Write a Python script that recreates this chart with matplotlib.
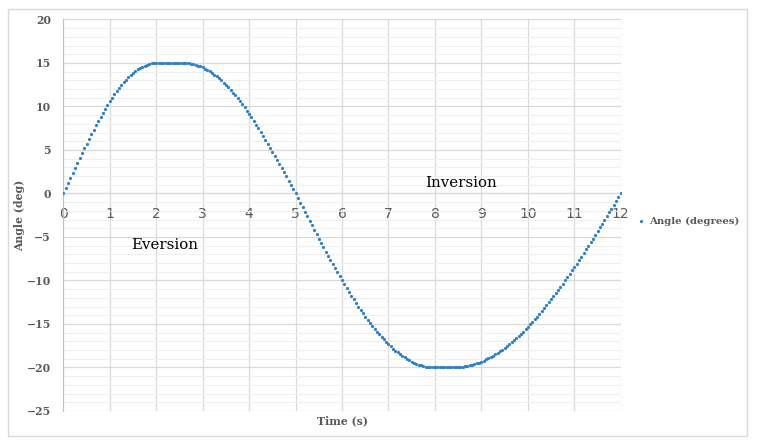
import numpy as np
import matplotlib.pyplot as plt
from matplotlib.patches import Rectangle

# ======================
# DATA (one sample every 0.05 s)
# ======================
angle_deg = [
    # rise 0 -> 15 (0.00 .. 2.00 s)
    0.00, 0.59, 1.18, 1.76, 2.35, 2.93, 3.50, 4.07, 4.64, 5.19,
    5.74, 6.28, 6.81, 7.33, 7.84, 8.33, 8.82, 9.29, 9.74, 10.18,
    10.61, 11.01, 11.41, 11.78, 12.14, 12.47, 12.79, 13.09, 13.37, 13.62,
    13.86, 14.07, 14.27, 14.44, 14.59, 14.71, 14.82, 14.90, 14.95, 14.99,
    15.00,
    # top plateau (2.05 .. 2.55 s)
    15.00, 15.00, 15.00, 15.00, 15.00, 15.00, 15.00, 15.00, 15.00, 15.00,
    15.00,
    # fall 15 -> 0 (2.60 .. 5.00 s)
    15.00, 14.99, 14.97, 14.93, 14.87, 14.80, 14.71, 14.61, 14.49, 14.35,
    14.20, 14.04, 13.86, 13.66, 13.45, 13.23, 12.99, 12.74, 12.47, 12.19,
    11.90, 11.60, 11.28, 10.95, 10.61, 10.25, 9.89, 9.52, 9.13, 8.74,
    8.33, 7.92, 7.50, 7.07, 6.63, 6.19, 5.74, 5.28, 4.82, 4.35,
    3.88, 3.41, 2.93, 2.44, 1.96, 1.47, 0.98, 0.49, 0.00,
    # fall 0 -> -20 (5.05 .. 8.00 s)
    -0.52, -1.05, -1.57, -2.09, -2.61, -3.13, -3.64, -4.16, -4.67, -5.18,
    -5.68, -6.18, -6.68, -7.17, -7.65, -8.13, -8.61, -9.08, -9.54, -10.00,
    -10.45, -10.89, -11.33, -11.76, -12.18, -12.59, -12.99, -13.38, -13.77, -14.14,
    -14.51, -14.86, -15.21, -15.54, -15.87, -16.18, -16.48, -16.77, -17.05, -17.32,
    -17.58, -17.82, -18.05, -18.27, -18.48, -18.67, -18.85, -19.02, -19.18, -19.32,
    -19.45, -19.56, -19.67, -19.75, -19.83, -19.89, -19.94, -19.97, -19.99, -20.00,
    # bottom plateau (8.05 .. 8.35 s)
    -20.00, -20.00, -20.00, -20.00, -20.00, -20.00, -20.00,
    # rise -20 -> 0 (8.40 .. 12.00 s)
    -20.00, -20.00, -19.98, -19.96, -19.92, -19.88, -19.83, -19.77, -19.70, -19.62,
    -19.53, -19.43, -19.32, -19.20, -19.07, -18.94, -18.79, -18.64, -18.48, -18.31,
    -18.13, -17.94, -17.74, -17.53, -17.32, -17.10, -16.87, -16.63, -16.38, -16.13,
    -15.87, -15.60, -15.32, -15.04, -14.75, -14.45, -14.14, -13.83, -13.51, -13.19,
    -12.86, -12.52, -12.18, -11.83, -11.47, -11.11, -10.75, -10.38, -10.00, -9.62,
    -9.24, -8.85, -8.45, -8.06, -7.65, -7.25, -6.84, -6.43, -6.01, -5.60,
    -5.18, -4.75, -4.33, -3.90, -3.47, -3.04, -2.61, -2.18, -1.74, -1.31,
    -0.87, -0.44, 0.00,
]
time_s = np.arange(len(angle_deg)) * 0.05

x_ticks = list(range(0, 13))
y_ticks = list(range(-25, 21, 5))
y_tick_labels = ["\u221225", "\u221220", "\u221215", "\u221210", "\u22125",
                 "0", "5", "10", "15", "20"]
series_label = "Angle (degrees)"

# ======================
# STYLE
# ======================
DOT_COLOR = "#2f80c6"
TEXT_GRAY = "#595959"
MAJOR_GRID = "#d9d9d9"
MINOR_GRID = "#efefef"
SERIF = "DejaVu Serif"
TICK_FONT = dict(family=SERIF, fontweight="bold", fontsize=7.8)

# ======================
# FIGURE SETUP
# ======================
fig = plt.figure(figsize=(7.58, 4.48), dpi=100, facecolor="white")
ax = fig.add_axes([0.0836, 0.0826, 0.7353, 0.8739])

# outer chart border
fig.patches.append(Rectangle((8 / 758, 12 / 448), 739 / 758, 427 / 448,
                             transform=fig.transFigure, fill=False,
                             ec=MAJOR_GRID, lw=1))

ax.set_xlim(0, 12)
ax.set_ylim(-25, 20)
ax.set_xticks(x_ticks)
ax.set_xticklabels([str(t) for t in x_ticks], **TICK_FONT)
ax.set_yticks(y_ticks)
ax.set_yticklabels(y_tick_labels, **TICK_FONT)
ax.set_yticks(range(-25, 21), minor=True)

ax.grid(True, which="major", color=MAJOR_GRID, lw=0.9)
ax.grid(True, which="minor", axis="y", color=MINOR_GRID, lw=0.8)
ax.set_axisbelow(True)

for side in ["top", "right"]:
    ax.spines[side].set_visible(False)
ax.spines["left"].set_color("#bfbfbf")
ax.spines["bottom"].set_position(("data", 0))
ax.spines["bottom"].set_color("#bfbfbf")
ax.spines["bottom"].set_zorder(0.5)

ax.tick_params(axis="both", which="both", length=0, colors=TEXT_GRAY)
ax.tick_params(axis="y", pad=9)
ax.tick_params(axis="x", pad=10)

# ======================
# SERIES
# ======================
ax.plot(time_s, angle_deg, linestyle="none", marker="o", markersize=2.3,
        markeredgewidth=0, color=DOT_COLOR, label=series_label, zorder=3)

# ======================
# LABELS
# ======================
ax.set_ylabel("Angle (deg)", family=SERIF, fontweight="bold", fontsize=7.8,
              color=TEXT_GRAY, labelpad=1)
ax.text(0.5, -0.0255, "Time (s)", transform=ax.transAxes, ha="center",
        va="center", family=SERIF, fontweight="bold", fontsize=7.8,
        color=TEXT_GRAY)

ax.text(8.56, 1.24, "Inversion", ha="center", va="center", family=SERIF,
        fontsize=10.8, color="black")
ax.text(2.17, -5.92, "Eversion", ha="center", va="center", family=SERIF,
        fontsize=10.8, color="black")

fig.legend(loc="center left", bbox_to_anchor=(0.829, 0.505), frameon=False,
           handlelength=0.6, handletextpad=0.5, markerscale=1.0,
           prop={"family": SERIF, "weight": "bold", "size": 7.3},
           labelcolor=TEXT_GRAY)

fig.savefig("out.png", dpi=100)
